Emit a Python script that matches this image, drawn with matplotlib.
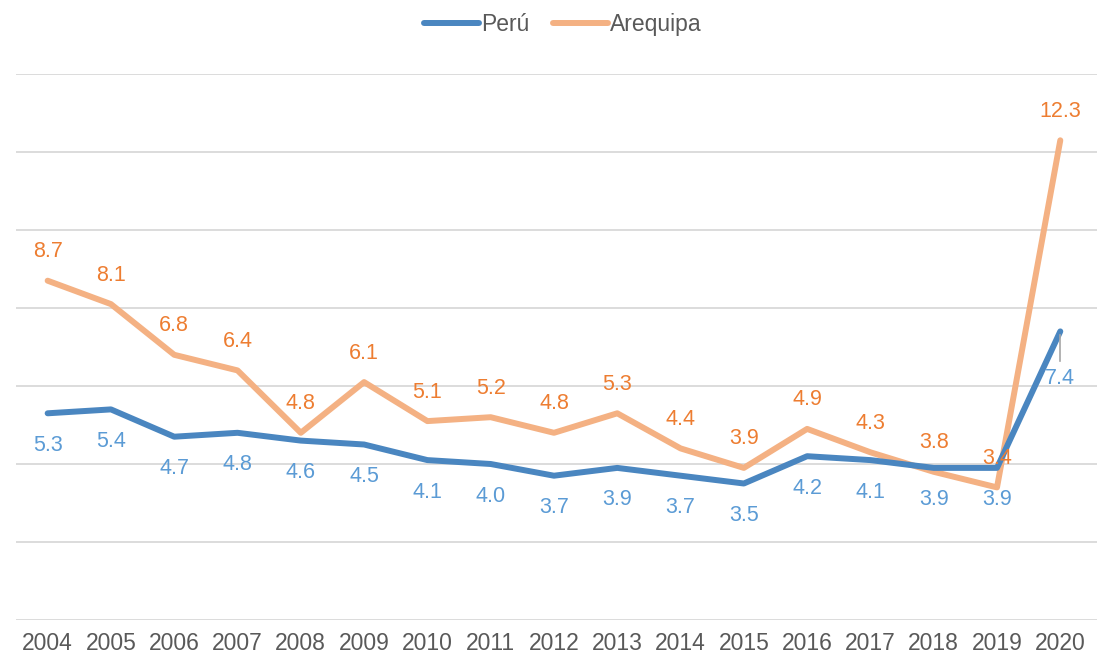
import matplotlib.pyplot as plt
import numpy as np

plt.rcParams['font.family'] = ['Liberation Sans', 'DejaVu Sans']

years = ['2004', '2005', '2006', '2007', '2008', '2009', '2010', '2011', '2012',
         '2013', '2014', '2015', '2016', '2017', '2018', '2019', '2020']
peru = [5.3, 5.4, 4.7, 4.8, 4.6, 4.5, 4.1, 4.0, 3.7, 3.9, 3.7, 3.5, 4.2, 4.1, 3.9, 3.9, 7.4]
arequipa = [8.7, 8.1, 6.8, 6.4, 4.8, 6.1, 5.1, 5.2, 4.8, 5.3, 4.4, 3.9, 4.9, 4.3, 3.8, 3.4, 12.3]

peru_line = '#4a86c0'
peru_text = '#5b9bd5'
areq_line = '#f4b183'
areq_text = '#ed7d31'
gray = '#595959'

fig = plt.figure(figsize=(10.97, 6.58), dpi=100)
ax = fig.add_axes([16 / 1097, 38 / 658, 1 - 16 / 1097, 546 / 658])

x = np.arange(len(years))
ax.plot(x, peru, color=peru_line, lw=4.3, solid_capstyle='round', label='Perú', zorder=3)
ax.plot(x, arequipa, color=areq_line, lw=4.3, solid_capstyle='round', label='Arequipa', zorder=2)

ax.set_xlim(-0.5, len(years) - 0.42)
ax.set_ylim(0, 14)
ax.set_yticks(np.arange(0, 15, 2))
ax.set_yticklabels([])
ax.tick_params(axis='y', length=0)
ax.grid(axis='y', color='#d9d9d9', lw=1.3)
ax.set_axisbelow(True)
ax.set_xticks(x)
ax.set_xticklabels(years, fontsize=16.5, color=gray)
ax.tick_params(axis='x', length=0, pad=9)
for s in ax.spines.values():
    s.set_visible(False)

for i, (p, a) in enumerate(zip(peru, arequipa)):
    if i == len(years) - 1:
        ax.annotate(f'{p:.1f}', (i, p), xytext=(0, -47), textcoords='offset pixels',
                    ha='center', va='center', fontsize=15.5, color=peru_text)
        ax.plot([i, i], [p - 0.1, p - 0.75], color='#a6a6a6', lw=1.2, zorder=4)
    else:
        ax.annotate(f'{p:.1f}', (i, p), xytext=(0, -32), textcoords='offset pixels',
                    ha='center', va='center', fontsize=15.5, color=peru_text)
    ax.annotate(f'{a:.1f}', (i, a), xytext=(0, 29), textcoords='offset pixels',
                ha='center', va='center', fontsize=15.5, color=areq_text)

fig.legend(loc='upper center', bbox_to_anchor=(0.513, 1.012), ncol=2, frameon=False,
           fontsize=16.5, labelcolor=gray, handlelength=2.4, handletextpad=0.1,
           columnspacing=1.0)

fig.savefig('out.png', dpi=100)
